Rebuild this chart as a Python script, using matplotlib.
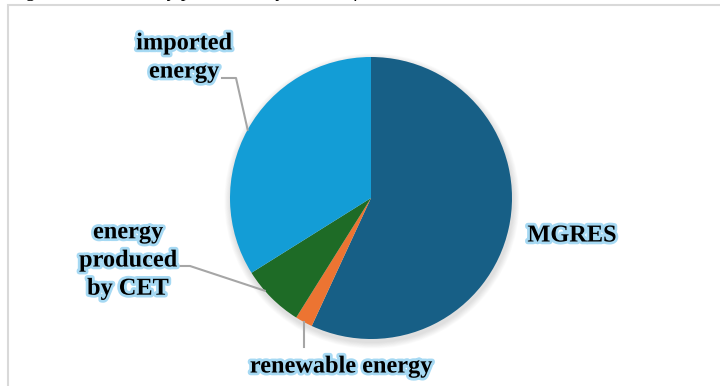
import numpy as np
import matplotlib
matplotlib.use("Agg")
import matplotlib.pyplot as plt
import matplotlib.patheffects as pe
from matplotlib.patches import Rectangle, Circle

# ---- data ----
categories = ["MGRES", "renewable energy", "energy\nproduced\nby CET", "imported\nenergy"]
values = [56.9, 2.0, 7.2, 33.9]
colors = ["#175f86", "#ec7432", "#1e6b26", "#139dd6"]
caption = "Figure 14. Electricity purchased by MGOU from sources between 2016"

W, H = 720, 386
fig = plt.figure(figsize=(W / 100, H / 100), dpi=100)
ax = fig.add_axes([0, 0, 1, 1])

# chart frame (light gray, partially outside)
fig.patches.append(Rectangle((8 / W, -0.1), 1.2, (H - 5) / H + 0.1, transform=fig.transFigure,
                             fill=False, edgecolor="#d9d9d9", linewidth=1.5))
# clipped caption at the very top
fig.text(10 / W, (H + 3) / H, caption, fontsize=14, family="Liberation Serif",
         style="italic", va="baseline", ha="left", color="black")

cx, cy, r = 371, H - 198, 141

# soft shadow
for k in range(8):
    ax.add_patch(Circle((cx + 1, cy - 3), r + 1 + k * 0.8, color="black", alpha=0.015, lw=0, zorder=0))

wedges, _ = ax.pie(values, colors=colors, startangle=90, counterclock=False,
                   center=(cx, cy), radius=r, wedgeprops=dict(linewidth=0), frame=True)
ax.set_xlim(0, W)
ax.set_ylim(0, H)
ax.set_aspect("equal")
ax.axis("off")

glow = [pe.withStroke(linewidth=4, foreground="#a6d9f3")]
tstyle = dict(fontsize=17.5, family="Liberation Serif", fontweight="bold", color="black",
              path_effects=glow, linespacing=1.45, ha="center", va="center", zorder=5)

def edge_point(w, frac_angle=0.5):
    a = np.deg2rad(w.theta1 + (w.theta2 - w.theta1) * frac_angle)
    return cx + r * np.cos(a), cy + r * np.sin(a)

lc = "#a6a6a6"
# MGRES - no leader
ax.text(572, H - 236, categories[0], **tstyle)

# renewable energy
ex, ey = edge_point(wedges[1])
ax.plot([ex, ex], [ey, H - 347], color=lc, lw=1.5, zorder=4)
ax.text(341, H - 367, categories[1], **tstyle)

# energy produced by CET
ex, ey = edge_point(wedges[2], 0.35)
ax.plot([179, 190, ex], [H - 266, H - 266, ey], color=lc, lw=1.5, zorder=4)
ax.text(128, H - 261, categories[2], **tstyle)

# imported energy
ex, ey = edge_point(wedges[3], 0.5)
ax.plot([222, 236, ex], [H - 78, H - 78, ey], color=lc, lw=1.5, zorder=4)
ax.text(184, H - 58, categories[3], **tstyle)

fig.savefig("out.png", dpi=100)
